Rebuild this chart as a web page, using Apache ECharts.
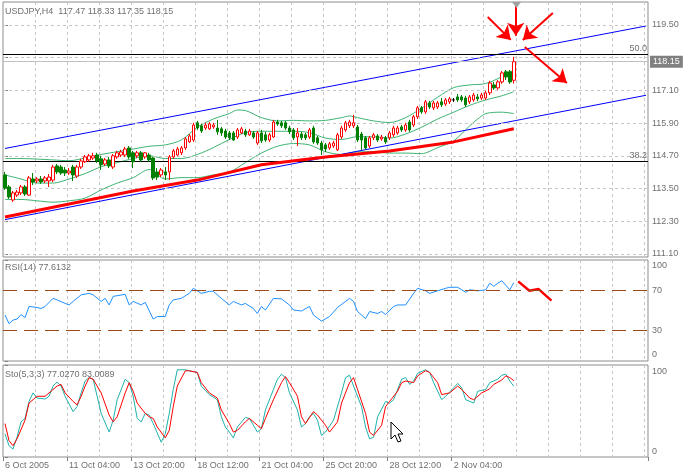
<!DOCTYPE html>
<html><head><meta charset="utf-8">
<script src="https://cdn.jsdelivr.net/npm/echarts@6/dist/echarts.min.js"></script>
<style>html,body{margin:0;padding:0;background:#fff}#c{width:687px;height:476px}</style>
</head><body><div id="c"></div>
<script>
// ---------- DATA ----------
const titleMain = 'USDJPY,H4  117.47 118.33 117.35 118.15';
const titleRsi = 'RSI(14) 77.6132';
const titleSto = 'Sto(5,3,3) 77.0270 83.0089';
const timeLabels = ['6 Oct 2005','11 Oct 04:00','13 Oct 20:00','18 Oct 12:00','21 Oct 04:00','25 Oct 20:00','28 Oct 12:00','2 Nov 04:00'];
const barsPerLabel = 16;
const barsPerGrid = 8;
const slotCount = 161; // bars + empty right shift area
const priceTicks = [111.10,112.30,113.50,114.70,115.90,117.10,118.30,119.50];
const priceHidden = [118.30];
const rsiTicks = [0,30,70,100];
const rsiLevels = [70,30];
const stoTicks = [0,100];
const bidPrice = 118.15;
const fibLevels = [{v:118.44, name:'50.0'},{v:114.51, name:'38.2'}];

// [open, close, low, high]
const candles = [
[114.00,113.52,113.45,114.11],[113.56,113.19,113.12,113.63],[113.08,113.34,113.01,113.41],[113.26,113.37,113.19,113.45],
[113.34,113.56,113.26,113.63],[113.56,113.30,113.23,113.63],[113.26,113.89,113.23,113.96],[113.85,113.74,113.63,114.07],
[113.78,113.85,113.70,113.92],[113.85,113.74,113.67,113.96],[113.78,113.89,113.70,113.96],[113.78,113.92,113.56,114.03],
[113.81,114.29,113.74,114.37],[114.33,114.11,114.03,114.40],[114.29,114.07,114.00,114.37],[114.18,114.07,113.96,114.29],
[114.07,114.14,114.00,114.25],[114.29,114.00,113.78,114.37],[113.96,114.29,113.89,114.37],[114.29,114.51,114.22,114.59],
[114.48,114.66,114.44,114.73],[114.55,114.70,114.48,114.77],[114.62,114.70,114.55,114.81],[114.73,114.51,114.44,114.81],
[114.59,114.37,114.18,114.70],[114.40,114.55,114.33,114.62],[114.55,114.33,114.25,114.66],[114.29,114.70,114.22,114.77],
[114.66,114.81,114.59,114.88],[114.73,114.84,114.66,114.92],[114.73,114.95,114.66,115.03],[114.99,114.66,114.59,115.06],
[114.81,114.48,114.25,114.88],[114.70,114.81,114.62,114.88],[114.81,114.55,114.48,114.88],[114.66,114.81,114.59,114.84],
[114.73,114.55,114.48,114.81],[114.62,113.89,113.81,114.66],[114.11,113.92,113.81,114.25],[114.00,114.18,113.92,114.25],
[114.11,114.00,113.81,114.29],[114.11,114.66,113.81,114.73],[114.66,114.88,114.59,114.95],[114.73,114.95,114.70,115.03],
[114.81,114.99,114.73,115.06],[114.99,115.32,114.92,115.39],[115.21,115.43,115.17,115.50],[115.28,115.83,115.21,115.91],
[115.91,115.72,115.65,115.98],[115.80,115.61,115.54,115.87],[115.72,115.83,115.65,115.91],[115.69,115.87,115.65,115.94],
[115.76,115.83,115.69,115.91],[115.72,115.58,115.47,116.02],[115.69,115.54,115.43,115.76],[115.61,115.39,115.32,115.69],
[115.54,115.36,115.28,115.61],[115.54,115.28,115.25,115.61],[115.39,115.65,115.32,115.72],[115.54,115.69,115.50,115.76],
[115.61,115.47,115.39,115.69],[115.47,115.61,115.43,115.69],[115.54,115.39,115.32,115.61],[115.17,115.54,115.10,115.61],
[115.54,115.25,115.17,115.65],[115.47,115.28,115.21,115.58],[115.28,115.47,115.21,115.54],[115.39,115.94,115.36,116.02],
[115.94,115.87,115.80,116.02],[115.91,115.80,115.72,115.98],[115.91,115.72,115.65,115.98],[115.72,115.58,115.50,115.80],
[115.65,115.36,115.28,115.72],[115.39,115.54,115.06,115.72],[115.50,115.36,115.28,115.58],[115.47,115.36,115.28,115.54],
[115.39,115.65,115.32,115.72],[115.72,115.21,115.14,115.80],[115.36,115.17,115.10,115.43],[115.17,114.92,114.73,115.25],
[115.10,114.95,114.84,115.17],[114.99,115.14,114.92,115.21],[115.06,115.17,114.99,115.25],[114.92,115.47,114.88,115.54],
[115.39,115.72,115.32,115.80],[115.65,115.91,115.58,115.98],[115.80,115.94,115.72,116.02],[115.80,115.91,115.72,116.20],
[115.76,115.28,115.21,115.83],[115.50,115.28,114.92,115.58],[115.36,114.99,114.92,115.43],[115.06,115.36,114.99,115.43],
[115.36,115.47,115.28,115.54],[115.43,115.28,115.21,115.50],[115.32,115.39,115.25,115.47],[115.36,115.21,115.14,115.43],
[115.36,115.54,115.28,115.61],[115.47,115.72,115.39,115.80],[115.54,115.72,115.47,115.80],[115.76,115.65,115.58,115.83],
[115.65,115.83,115.58,115.91],[115.94,115.65,115.58,116.02],[115.83,116.13,115.76,116.20],[116.13,116.46,116.05,116.53],
[116.46,116.31,116.24,116.53],[116.31,116.68,116.24,116.75],[116.64,116.49,116.42,116.71],[116.46,116.64,116.38,116.71],
[116.49,116.64,116.42,116.71],[116.68,116.57,116.49,116.82],[116.60,116.75,116.53,116.82],[116.68,116.79,116.60,116.86],
[116.75,116.75,116.68,116.82],[116.86,116.75,116.68,116.97],[116.86,116.75,116.68,116.93],[116.82,116.57,116.49,116.90],
[116.68,116.86,116.60,116.93],[116.75,116.93,116.68,117.01],[116.86,116.79,116.71,116.97],[116.82,116.93,116.75,117.01],
[116.82,117.01,116.75,117.08],[117.01,117.37,116.93,117.45],[117.30,117.19,117.12,117.41],[117.19,117.41,117.12,117.48],
[117.41,117.74,117.34,117.81],[117.78,117.59,117.48,117.85],[117.78,117.41,117.34,117.85],[117.47,118.15,117.35,118.33]
];

// Bollinger bands [bar, price]
const bbUpper = [[0,114.60],[4,114.60],[8,114.58],[12,114.55],[16,114.52],[20,114.62],[24,114.75],[28,114.85],[32,114.95],[36,115.05],[40,115.10],[44,115.28],[48,115.75],[52,116.05],[56,116.25],[58,116.38],[60,116.36],[64,116.10],[68,115.98],[72,116.00],[76,115.98],[80,116.00],[84,116.10],[86,116.16],[88,116.10],[92,115.98],[96,115.92],[100,116.10],[104,116.45],[108,116.85],[112,117.20],[116,117.30],[120,117.35],[124,117.60],[127,117.85]];
const bbMiddle = [[0,114.00],[4,113.85],[8,113.70],[12,113.70],[16,113.85],[20,114.05],[24,114.30],[28,114.45],[32,114.60],[36,114.70],[40,114.60],[44,114.60],[48,114.75],[52,115.00],[56,115.30],[60,115.55],[64,115.60],[68,115.60],[72,115.60],[76,115.55],[80,115.35],[84,115.30],[88,115.40],[92,115.40],[96,115.35],[100,115.50],[104,115.75],[108,116.05],[112,116.30],[116,116.55],[120,116.75],[124,116.90],[127,117.05]];
const bbLower = [[0,113.10],[4,113.10],[8,113.05],[12,113.00],[16,113.05],[20,113.15],[24,113.45],[28,113.70],[32,113.90],[36,114.20],[40,113.85],[44,113.90],[48,113.90],[52,114.00],[56,114.10],[60,114.45],[64,114.80],[68,115.05],[72,115.15],[76,115.10],[80,114.85],[84,114.75],[88,114.85],[92,114.85],[96,114.80],[100,114.80],[104,114.78],[108,115.00],[112,115.25],[116,115.80],[118,116.05],[120,116.25],[124,116.30],[127,116.25]];
// slow moving average (thick red)
const maSlow = [[0,112.46],[16,112.93],[32,113.41],[48,113.81],[64,114.37],[80,114.66],[96,114.88],[112,115.21],[127,115.69]];
// channel trend lines
const channelUpper = [[0,114.97],[160,119.46]];
const channelLower = [[0,112.36],[160,116.92]];
// hand-drawn arrows [from, to]
const arrows = [
  [[120.5,119.79],[126.25,118.95]],
  [[127.5,120.27],[127.5,119.10]],
  [[136.75,119.94],[129.25,118.95]],
  [[129.75,118.69],[140.25,117.37]]
];

const rsi = [[0,45.5],[1,37],[2,40.5],[3,41.5],[4,46],[5,43],[6,54],[8,53],[9,52],[10,54],[12,62],[13,60.5],[15,57],[16,55.5],[17,59],[19,65.5],[21,67],[22,65.5],[24,59],[25,62],[26,55.5],[27,64],[30,66],[31,55.5],[32,59],[34,55.5],[35,58],[37,41.5],[38,44],[40,44],[41,55.5],[42,60.5],[44,62],[46,67],[47,72],[49,67],[51,69],[52,69],[54,62],[56,55.5],[57,59],[59,55.5],[60,57],[62,52],[63,47],[64,54],[65,50.5],[67,62],[69,61.5],[71,55.5],[72,50.5],[74,49.5],[76,54],[77,45.5],[79,39.5],[81,44],[83,53],[86,62],[87,59],[88,49],[90,42],[91,49],[93,47],[94,49],[95,46],[97,54],[98,55.5],[100,55.5],[102,67],[103,72],[105,69.5],[106,67],[108,69.5],[110,72],[111,73],[113,73],[115,68],[116,70.5],[118,69.5],[120,70.5],[121,77],[122,74],[123,77],[124,79.5],[125,75],[126,70.5],[127,77.6]];
const rsiDrawn = [[128.1,78.8],[130.9,69.5],[133.2,71.2],[136.4,59.8]];

const stoK = [[0,25.2],[1,12.3],[2,8.6],[3,21.5],[4,38.2],[5,41.9],[6,60.4],[7,69.7],[8,64.1],[10,63.0],[11,66.0],[12,77.1],[13,81.5],[14,77.1],[15,66.0],[17,49.3],[18,54.8],[19,69.7],[20,82.6],[21,86.3],[22,84.5],[23,66.0],[24,47.4],[26,27.1],[27,40.0],[28,62.3],[30,84.5],[31,80.8],[32,66.0],[33,41.9],[34,38.2],[35,47.4],[36,45.6],[37,36.3],[39,16.0],[40,25.2],[41,47.4],[42,73.4],[43,94.8],[45,94.8],[46,93.7],[48,91.9],[49,77.1],[51,67.8],[53,62.3],[54,43.7],[55,32.6],[56,27.1],[57,20.8],[58,32.6],[60,43.0],[61,41.9],[63,27.1],[64,30.8],[65,51.1],[67,73.4],[68,84.5],[69,90.0],[70,86.3],[71,69.7],[73,51.1],[74,32.6],[75,36.3],[76,43.7],[77,47.4],[78,40.0],[79,23.4],[80,27.1],[82,40.0],[84,69.7],[85,86.3],[86,88.9],[87,77.1],[89,54.8],[90,32.6],[91,19.7],[92,21.5],[93,43.7],[95,60.4],[96,58.6],[97,62.3],[99,84.5],[100,86.3],[101,78.9],[102,82.6],[103,91.1],[105,94.8],[106,91.9],[107,80.8],[109,62.3],[110,66.0],[112,75.2],[113,80.0],[114,75.2],[115,62.3],[117,58.6],[118,71.5],[120,73.4],[121,80.8],[123,84.5],[124,88.9],[125,90.0],[126,82.6],[127,77.0]];
const stoD = [[0,36.3],[1,17.8],[2,12.3],[3,19.7],[5,40.0],[6,58.6],[8,66.0],[10,66.0],[11,69.7],[13,77.1],[14,78.9],[15,69.7],[17,60.4],[18,56.7],[19,66.0],[20,77.1],[21,86.3],[22,84.5],[24,69.7],[26,45.6],[27,38.2],[28,43.7],[30,69.7],[31,80.8],[32,71.5],[33,58.6],[35,47.4],[36,43.7],[37,41.9],[38,32.6],[40,20.8],[41,28.9],[42,54.8],[43,77.1],[45,93.7],[46,93.7],[48,91.9],[49,80.8],[51,69.7],[53,64.1],[54,51.1],[56,36.3],[57,27.1],[58,28.9],[60,38.2],[61,41.9],[63,34.5],[64,30.8],[65,41.9],[67,62.3],[69,80.8],[70,87.4],[71,80.8],[73,66.0],[74,43.7],[75,36.3],[77,49.3],[78,45.6],[80,34.5],[81,27.1],[83,38.2],[84,58.6],[86,80.8],[87,86.3],[88,73.4],[90,47.4],[91,27.1],[92,23.4],[94,34.5],[95,54.8],[96,60.4],[98,71.5],[99,80.8],[100,82.6],[102,80.8],[103,88.2],[105,93.7],[106,91.9],[108,80.8],[109,67.8],[111,69.7],[113,77.1],[114,73.4],[116,64.1],[117,62.3],[119,69.7],[121,74.1],[122,78.9],[124,83.7],[125,88.2],[126,86.3],[127,83.0]];

// ---------- CHART ----------
const FONT = 'Liberation Sans, Arial, sans-serif';
const TXT = '#707070';
const GRIDC = '#c6c6c6';
const lastLabelIdx = (timeLabels.length - 1) * barsPerLabel;
const categories = Array.from({length: slotCount}, (_, i) =>
  (i % barsPerLabel === 0 && i / barsPerLabel < timeLabels.length) ? timeLabels[i / barsPerLabel] : String(i));
const labelInt = (i) => i % barsPerLabel === 0 && i <= lastLabelIdx;

function catAxis(g, show) {
  return {
    type: 'category', gridIndex: g, data: categories, boundaryGap: true,
    axisLine: {show: false},
    axisTick: {show: show, interval: labelInt, length: 4, lineStyle: {color: '#808080'}},
    axisLabel: {show: show, interval: labelInt, align: 'left', color: TXT, fontSize: 9, fontFamily: FONT, margin: 4},
    splitLine: {show: true, interval: (i) => i > 0 && i % barsPerGrid === 0, lineStyle: {color: GRIDC, type: [3, 3], width: 1}}
  };
}
function valAxis(g) {
  return {type: 'value', gridIndex: g, min: -0.5, max: slotCount - 0.5, show: false};
}
const labelStyle = {color: TXT, fontSize: 9, fontFamily: FONT};

const chart = echarts.init(document.getElementById('c'), null, {renderer: 'canvas'});
chart.setOption({
  animation: false,
  backgroundColor: '#ffffff',
  title: [
    {text: titleMain, left: 5, top: 7, padding: 0, textStyle: Object.assign({fontWeight: 'normal'}, labelStyle)},
    {text: titleRsi, left: 5, top: 263, padding: 0, textStyle: Object.assign({fontWeight: 'normal'}, labelStyle)},
    {text: titleSto, left: 5, top: 370, padding: 0, textStyle: Object.assign({fontWeight: 'normal'}, labelStyle)}
  ],
  grid: [
    {left: 3, top: 2, width: 645, height: 255, show: true, borderColor: '#8c8c8c', borderWidth: 1, backgroundColor: '#fff'},
    {left: 3, top: 260, width: 645, height: 101, show: true, borderColor: '#8c8c8c', borderWidth: 1},
    {left: 3, top: 365, width: 645, height: 92, show: true, borderColor: '#8c8c8c', borderWidth: 1}
  ],
  xAxis: [catAxis(0, false), valAxis(0), catAxis(1, false), valAxis(1), catAxis(2, true), valAxis(2)],
  yAxis: [
    {type: 'value', gridIndex: 0, position: 'right', min: 110.99, max: 120.34,
     axisLine: {show: false}, splitLine: {show: false},
     axisTick: {show: true, customValues: priceTicks, length: 3, lineStyle: {color: '#808080'}},
     axisLabel: Object.assign({customValues: priceTicks.filter(v => priceHidden.indexOf(v) < 0), formatter: (v) => Number(v).toFixed(2), margin: 4}, labelStyle)},
    {type: 'value', gridIndex: 1, position: 'right', min: 0, max: 100,
     axisLine: {show: false}, splitLine: {show: false},
     axisTick: {show: true, customValues: rsiTicks, length: 3, lineStyle: {color: '#808080'}},
     axisLabel: Object.assign({customValues: rsiTicks, margin: 4,
       formatter: (v) => v === 100 ? '{t|100}' : (v === 0 ? '{b|0}' : String(v)),
       rich: {t: Object.assign({padding: [12, 0, 0, 0]}, labelStyle), b: Object.assign({padding: [0, 0, 12, 0]}, labelStyle)}}, labelStyle)},
    {type: 'value', gridIndex: 2, position: 'right', min: 0, max: 100,
     axisLine: {show: false}, splitLine: {show: false},
     axisTick: {show: true, customValues: stoTicks, length: 3, lineStyle: {color: '#808080'}},
     axisLabel: Object.assign({customValues: stoTicks, margin: 4,
       formatter: (v) => v === 100 ? '{t|100}' : '{b|0}',
       rich: {t: Object.assign({padding: [13, 0, 0, 0]}, labelStyle), b: Object.assign({padding: [0, 0, 11, 0]}, labelStyle)}}, labelStyle)}
  ],
  graphic: [
    {type: 'polygon', shape: {points: [[512, 2], [521, 2], [516.5, 8]]}, style: {fill: '#a0a0a0'}, z: 100},
    {type: 'polygon', shape: {points: [[391, 422], [391, 439], [395, 435], [398, 442], [401, 441], [398, 434], [403, 434]]},
     style: {fill: '#ffffff', stroke: '#000000', lineWidth: 1}, z: 100}
  ],
  series: [
    // main horizontal grid
    {type: 'line', xAxisIndex: 1, yAxisIndex: 0, data: [], silent: true, z: 0,
     markLine: {silent: true, symbol: 'none', label: {show: false}, lineStyle: {color: GRIDC, type: [3, 3], width: 1},
       data: priceTicks.map(v => ({yAxis: v}))}},
    // bid line
    {type: 'line', xAxisIndex: 1, yAxisIndex: 0, data: [], silent: true, z: 1,
     markLine: {silent: true, symbol: 'none', lineStyle: {color: '#c0c0c0', type: 'solid', width: 1},
       label: {show: true, position: 'end', distance: 2, formatter: bidPrice.toFixed(2), color: '#ffffff', backgroundColor: '#808080',
         padding: [2, 3, 1, 3], fontSize: 9, fontFamily: FONT},
       data: [{yAxis: bidPrice}]}},
    // fibo levels
    {type: 'line', xAxisIndex: 1, yAxisIndex: 0, data: [], silent: true, z: 2,
     markLine: {silent: true, symbol: 'none', lineStyle: {color: '#000000', type: 'solid', width: 1},
       label: {show: true, position: 'insideEndTop', distance: [1, 1], color: TXT, fontSize: 9, fontFamily: FONT, formatter: (p) => p.name},
       data: fibLevels.map(f => ({yAxis: f.v, name: f.name}))}},
    // bollinger
    {type: 'line', xAxisIndex: 1, yAxisIndex: 0, data: bbUpper, symbol: 'none', smooth: 0.3, z: 3, lineStyle: {color: '#3cb371', width: 1}},
    {type: 'line', xAxisIndex: 1, yAxisIndex: 0, data: bbMiddle, symbol: 'none', smooth: 0.3, z: 3, lineStyle: {color: '#3cb371', width: 1}},
    {type: 'line', xAxisIndex: 1, yAxisIndex: 0, data: bbLower, symbol: 'none', smooth: 0.3, z: 3, lineStyle: {color: '#3cb371', width: 1}},
    // channel
    {type: 'line', xAxisIndex: 1, yAxisIndex: 0, data: channelUpper, symbol: 'none', z: 4, lineStyle: {color: '#0000ff', width: 1}},
    {type: 'line', xAxisIndex: 1, yAxisIndex: 0, data: channelLower, symbol: 'none', z: 4, lineStyle: {color: '#0000ff', width: 1}},
    // slow MA
    {type: 'line', xAxisIndex: 1, yAxisIndex: 0, data: maSlow, symbol: 'none', z: 5, lineStyle: {color: '#ff0000', width: 3}},
    // candles
    {type: 'candlestick', xAxisIndex: 0, yAxisIndex: 0, data: candles, barWidth: 3, z: 6,
     itemStyle: {color: '#ffffff', color0: '#008000', borderColor: '#ff0000', borderColor0: '#008000', borderColorDoji: '#000000', borderWidth: 1}},
    // arrows
    {type: 'line', xAxisIndex: 1, yAxisIndex: 0, data: [], silent: true, z: 7,
     markLine: {silent: true, symbol: ['none', 'arrow'], symbolSize: 13, label: {show: false},
       lineStyle: {color: '#ff0000', type: 'solid', width: 2},
       data: arrows.map(a => [{coord: a[0]}, {coord: a[1]}])}},
    // RSI
    {type: 'line', xAxisIndex: 3, yAxisIndex: 1, data: [], silent: true, z: 1,
     markLine: {silent: true, symbol: 'none', label: {show: false}, lineStyle: {color: '#9b4a17', type: [14, 7], width: 1},
       data: rsiLevels.map(v => ({yAxis: v}))}},
    {type: 'line', xAxisIndex: 3, yAxisIndex: 1, data: rsi, symbol: 'none', z: 3, lineStyle: {color: '#1e90ff', width: 1}},
    {type: 'line', xAxisIndex: 3, yAxisIndex: 1, data: rsiDrawn, symbol: 'none', z: 4, lineStyle: {color: '#ff0000', width: 2.5}},
    // Stochastic
    {type: 'line', xAxisIndex: 5, yAxisIndex: 2, data: stoK, symbol: 'none', z: 3, lineStyle: {color: '#20b2aa', width: 1}},
    {type: 'line', xAxisIndex: 5, yAxisIndex: 2, data: stoD, symbol: 'none', z: 4, lineStyle: {color: '#ff0000', width: 1}}
  ]
});
</script>
</body></html>
